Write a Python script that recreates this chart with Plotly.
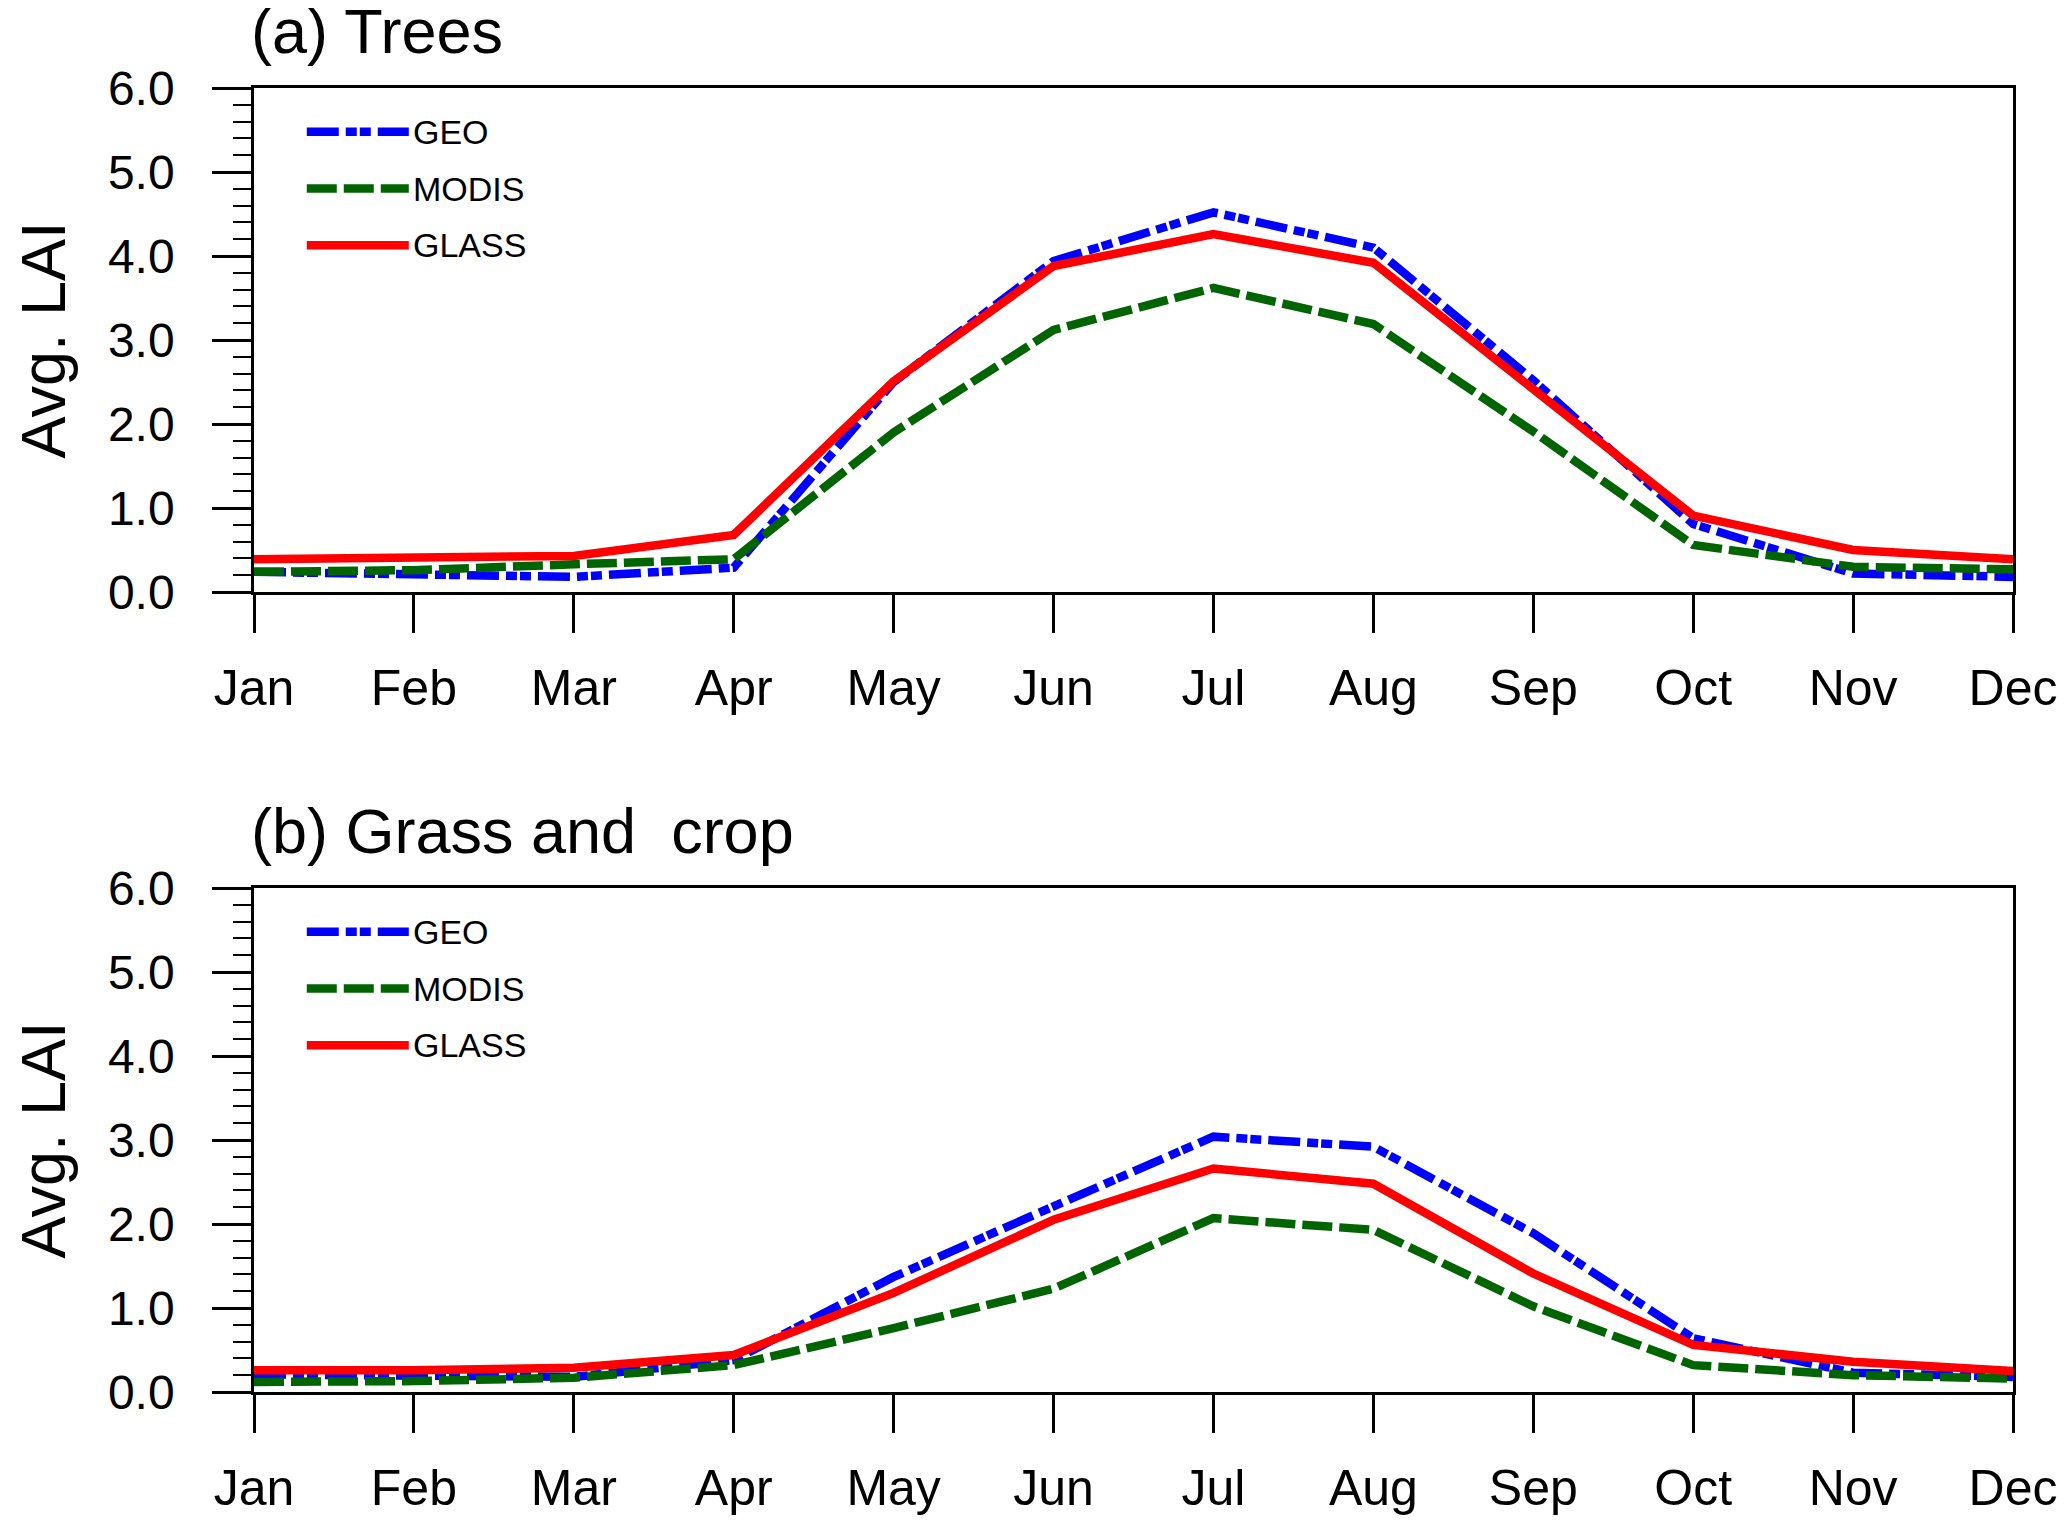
import plotly.graph_objects as go
from plotly.subplots import make_subplots

# ==========================================
# Data: monthly average LAI
# ==========================================
MONTHS = ['Jan', 'Feb', 'Mar', 'Apr', 'May', 'Jun',
          'Jul', 'Aug', 'Sep', 'Oct', 'Nov', 'Dec']

SERIES_NAMES = ['GEO', 'MODIS', 'GLASS']

# (a) Trees
trees_geo = [0.24, 0.22, 0.18, 0.29, 2.50, 3.94, 4.52, 4.10, 2.52, 0.81, 0.22, 0.18]
trees_modis = [0.24, 0.26, 0.33, 0.39, 1.90, 3.12, 3.62, 3.19, 1.91, 0.56, 0.30, 0.27]
trees_glass = [0.39, 0.40, 0.43, 0.68, 2.51, 3.88, 4.26, 3.92, 2.42, 0.91, 0.50, 0.39]

# (b) Grass and crop
grass_geo = [0.21, 0.20, 0.18, 0.38, 1.37, 2.21, 3.04, 2.92, 1.89, 0.64, 0.23, 0.18]
grass_modis = [0.12, 0.13, 0.17, 0.32, 0.76, 1.23, 2.07, 1.93, 1.02, 0.32, 0.20, 0.16]
grass_glass = [0.26, 0.26, 0.29, 0.44, 1.18, 2.05, 2.66, 2.48, 1.41, 0.56, 0.36, 0.25]

PANEL_TITLES = ['(a) Trees', '(b) Grass and  crop']
Y_TITLE = 'Avg. LAI'

# ==========================================
# Styles
# ==========================================
FONT = 'Liberation Sans, Arial, Helvetica, sans-serif'
STYLES = {
    'GEO': dict(color='#0000FF', width=8.5, dash='32px,7px,11px,3px,11px,7px'),
    'MODIS': dict(color='#006400', width=8.5, dash='30px,7px'),
    'GLASS': dict(color='#FF0000', width=8.5, dash='solid'),
}

fig = make_subplots(rows=2, cols=1, vertical_spacing=0.2270)

panels = [
    (trees_geo, trees_modis, trees_glass),
    (grass_geo, grass_modis, grass_glass),
]

for i, vals in enumerate(panels):
    row = i + 1
    for name, y in zip(SERIES_NAMES, vals):
        fig.add_trace(go.Scatter(
            x=MONTHS, y=y, name=name, mode='lines',
            line=STYLES[name], showlegend=False,
        ), row=row, col=1)

    xref = 'x domain' if row == 1 else 'x2 domain'
    yref = 'y domain' if row == 1 else 'y2 domain'

    # panel title
    fig.add_annotation(
        text=PANEL_TITLES[i], xref=xref, yref=yref, x=-0.003, y=1,
        xanchor='left', yanchor='bottom', yshift=20, showarrow=False,
        font=dict(size=63, color='black', family=FONT),
    )

    # hand-drawn legend (long line samples like the original)
    for k, name in enumerate(SERIES_NAMES):
        ly = 0.913 - k * 0.1125
        fig.add_shape(
            type='line', xref=xref, yref=yref,
            x0=0.030, x1=0.088, y0=ly, y1=ly,
            line=STYLES[name],
        )
        fig.add_annotation(
            text=name, xref=xref, yref=yref, x=0.0895, y=ly,
            xanchor='left', yanchor='middle', showarrow=False,
            font=dict(size=34, color='black', family=FONT),
        )

fig.update_xaxes(
    type='category', range=[0, 11], automargin=False,
    showline=True, linewidth=2.5, linecolor='black', mirror=True,
    ticks='outside', ticklen=38, tickwidth=2.5, tickcolor='black',
    ticklabelstandoff=12,
    tickfont=dict(size=50, color='black', family=FONT),
    showgrid=False, zeroline=False,
)

fig.update_yaxes(
    range=[0, 6], dtick=1, tickformat='.1f', automargin=False,
    showline=True, linewidth=2.5, linecolor='black', mirror=True,
    ticks='outside', ticklen=39, tickwidth=2.5, tickcolor='black',
    minor=dict(dtick=0.2, ticks='outside', ticklen=18, tickwidth=2, tickcolor='black', showgrid=False),
    ticklabelstandoff=28,
    tickfont=dict(size=48, color='black', family=FONT),
    title=dict(text=Y_TITLE, standoff=53, font=dict(size=63, color='black', family=FONT)),
    showgrid=False, zeroline=False,
)

# the page adds an 8px body margin on every side, so the figure is 16px
# smaller than the window to fit it without scrolling
fig.update_layout(
    width=2051, height=1508,
    margin=dict(l=246, r=46, t=80, b=124),
    plot_bgcolor='white', paper_bgcolor='white',
    font=dict(family=FONT, color='black'),
)

fig.write_html("out.html")
